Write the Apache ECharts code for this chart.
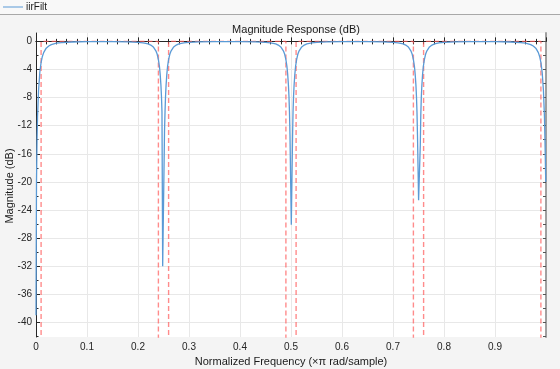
<!DOCTYPE html>
<html>
<head>
<meta charset="utf-8">
<script src="https://cdn.jsdelivr.net/npm/echarts@6/dist/echarts.min.js"></script>
<style>
html,body{margin:0;padding:0;background:#f4f4f4;}
#c{width:560px;height:369px;}
</style>
</head>
<body>
<div id="c"></div>
<script>
// ---- data ----
const freq = [
  0, 0.001, 0.002, 0.003, 0.005, 0.0075, 0.01, 0.0125, 0.015, 0.02, 0.025, 0.03, 0.04, 0.05, 0.07, 0.1, 0.125,
  0.15, 0.18, 0.20, 0.21, 0.22, 0.225, 0.23, 0.235, 0.2375, 0.24, 0.242, 0.2435, 0.245, 0.246, 0.247, 0.2484,
  0.252, 0.253, 0.254, 0.255, 0.2565, 0.258, 0.26, 0.2625, 0.265, 0.27, 0.275, 0.28, 0.29, 0.30, 0.32, 0.35, 0.375,
  0.40, 0.43, 0.45, 0.46, 0.47, 0.475, 0.48, 0.485, 0.4875, 0.49, 0.492, 0.4935, 0.495, 0.496, 0.497, 0.498, 0.5006,
  0.503, 0.504, 0.505, 0.506, 0.5075, 0.509, 0.511, 0.5135, 0.516, 0.521, 0.526, 0.531, 0.541, 0.551, 0.57, 0.60, 0.625,
  0.65, 0.68, 0.70, 0.71, 0.72, 0.725, 0.73, 0.735, 0.7375, 0.74, 0.742, 0.7435, 0.745, 0.746, 0.747, 0.748, 0.7502,
  0.7535, 0.7545, 0.7555, 0.7565, 0.758, 0.7595, 0.7615, 0.764, 0.7665, 0.7715, 0.7765, 0.7815, 0.79, 0.80, 0.82, 0.85, 0.875,
  0.90, 0.93, 0.95, 0.96, 0.97, 0.975, 0.98, 0.985, 0.9875, 0.99, 0.9925, 0.995, 0.997, 0.998, 0.9995
];
const magDb = [
  -39, -20, -14.1, -10.8, -7.0, -4.4, -3.0, -2.15, -1.6, -0.97, -0.66, -0.46, -0.26, -0.17, -0.09, -0.04, -0.03,
  -0.035, -0.07, -0.14, -0.21, -0.37, -0.53, -0.8, -1.34, -1.8, -2.6, -3.55, -4.7, -6.3, -7.8, -10.0, -32,
  -12.8, -10.0, -7.8, -6.3, -4.7, -3.55, -2.6, -1.8, -1.34, -0.8, -0.53, -0.37, -0.21, -0.14, -0.07, -0.035, -0.03,
  -0.035, -0.07, -0.14, -0.21, -0.37, -0.53, -0.8, -1.34, -1.8, -2.6, -3.55, -4.7, -6.3, -7.8, -10.0, -13.3, -26.1,
  -13.8, -10.0, -7.8, -6.3, -4.7, -3.55, -2.6, -1.8, -1.34, -0.8, -0.53, -0.37, -0.21, -0.14, -0.07, -0.035, -0.03,
  -0.035, -0.07, -0.14, -0.21, -0.37, -0.53, -0.8, -1.34, -1.8, -2.6, -3.55, -4.7, -6.3, -7.8, -10.0, -13.3, -22.6,
  -14.8, -10.5, -8.0, -6.4, -4.7, -3.55, -2.6, -1.8, -1.34, -0.8, -0.53, -0.37, -0.21, -0.14, -0.07, -0.035, -0.03,
  -0.04, -0.09, -0.17, -0.26, -0.46, -0.66, -0.97, -1.6, -2.15, -3.0, -4.4, -7.0, -10.8, -14.1, -20
];
// passband mask edges (normalized frequency) and passband level (dB)
const passbands = [[0.01, 0.24], [0.26, 0.49], [0.51, 0.74], [0.76, 0.99]];
const maskTop = 0;
const maskFloor = -60;
// axis ranges & ticks
const xMin = 0, xMax = 1, xStep = 0.1;
const xTopTicks = [0.02, 0.04, 0.06, 0.08, 0.1, 0.12, 0.14, 0.16, 0.18, 0.2, 0.22, 0.24, 0.26, 0.28, 0.3,
  0.32, 0.34, 0.36, 0.38, 0.4, 0.42, 0.44, 0.46, 0.48, 0.5, 0.52, 0.54, 0.56, 0.58, 0.6, 0.62, 0.64, 0.66, 0.68, 0.7,
  0.72, 0.74, 0.76, 0.78, 0.8, 0.82, 0.84, 0.86, 0.88, 0.9, 0.92, 0.94, 0.96, 0.98];
const yMin = -42.08, yMax = 1.19;
const yMajor = [-40, -36, -32, -28, -24, -20, -16, -12, -8, -4, 0];
const yMinor = [-42, -38, -34, -30, -26, -22, -18, -14, -10, -6, -2];
const seriesName = 'iirFilt';

const FONT = 'Liberation Sans, Arial, Helvetica, sans-serif';
const AX = '#262626';
const BLUE = '#5a9ad6';

const curve = freq.map((f, i) => [f, magDb[i]]);
const maskData = [];
passbands.forEach((b, i) => {
  if (i > 0) maskData.push(null);
  maskData.push([b[0], maskFloor], [b[0], maskTop], [b[1], maskTop], [b[1], maskFloor]);
});

const chart = echarts.init(document.getElementById('c'), null, {renderer: 'canvas'});
chart.setOption({
  backgroundColor: '#f4f4f4',
  animation: false,
  textStyle: {fontFamily: FONT},
  title: {
    text: 'Magnitude Response (dB)',
    left: 291, top: 19, textAlign: 'center',
    textStyle: {fontSize: 11, fontWeight: 'normal', color: '#1a1a1a', fontFamily: FONT}
  },
  legend: {
    data: [{name: seriesName, icon: 'rect', itemStyle: {color: BLUE}}],
    left: 3, top: 2,
    itemWidth: 20, itemHeight: 1, itemGap: 4,
    padding: 0,
    textStyle: {fontSize: 10, color: '#1a1a1a', fontFamily: FONT, padding: [0, 0, 0, -2]}
  },
  graphic: [
    {type: 'rect', left: 0, top: 0, shape: {width: 560, height: 14}, style: {fill: '#f8f8f8'}, z: -10, silent: true},
    {type: 'line', shape: {x1: 0, y1: 14.5, x2: 560, y2: 14.5}, style: {stroke: '#a8a8a8', lineWidth: 1}, z: -9, silent: true},
    {type: 'text', x: 10, y: 186, rotation: Math.PI / 2, silent: true,
      style: {text: 'Magnitude (dB)', fill: '#1a1a1a', font: '11px ' + FONT, align: 'center', verticalAlign: 'middle'}}
  ],
  grid: {left: 36, right: 14, top: 33, bottom: 32, show: true, backgroundColor: '#ffffff', borderWidth: 0,
    containLabel: false, outerBoundsMode: 'none'},
  xAxis: [
    {
      type: 'value', min: xMin, max: xMax, interval: xStep, position: 'bottom',
      name: 'Normalized Frequency (\u00d7\u03c0 rad/sample)', nameLocation: 'middle', nameGap: 15,
      nameTextStyle: {fontSize: 11, color: '#1a1a1a', fontFamily: FONT},
      axisLine: {show: true, lineStyle: {color: AX, width: 1}},
      axisTick: {show: true, inside: true, length: 4, lineStyle: {color: AX}},
      minorTick: {show: true, splitNumber: 5, length: 2.5, lineStyle: {color: AX}},
      splitLine: {show: true, lineStyle: {color: '#e8e8e8', width: 1}},
      axisLabel: {fontSize: 10, color: AX, margin: 5, showMaxLabel: false,
        formatter: v => (v === 0 ? '0' : String(+v.toFixed(1)))}
    },
    {
      type: 'value', min: xMin, max: xMax, interval: xStep, position: 'top',
      axisLine: {show: true, lineStyle: {color: AX, width: 1}},
      axisTick: {show: true, inside: true, length: 3, lineStyle: {color: AX}, customValues: xTopTicks},
      minorTick: {show: false},
      splitLine: {show: false}, axisLabel: {show: false}
    }
  ],
  yAxis: [
    {
      type: 'value', min: yMin, max: yMax, position: 'left',
      axisLine: {show: true, lineStyle: {color: AX, width: 1}},
      axisTick: {show: true, inside: true, length: 4, lineStyle: {color: AX}, customValues: yMajor},
      splitLine: {show: true, lineStyle: {color: '#e8e8e8', width: 1}},
      axisLabel: {fontSize: 10, color: AX, margin: 4, customValues: yMajor}
    },
    {
      type: 'value', min: yMin, max: yMax, position: 'left',
      axisLine: {show: false},
      axisTick: {show: true, inside: true, length: 2.5, lineStyle: {color: AX}, customValues: yMinor},
      splitLine: {show: false}, axisLabel: {show: false}
    },
    {
      type: 'value', min: yMin, max: yMax, position: 'right',
      axisLine: {show: true, lineStyle: {color: '#a0a0a0', width: 2}},
      axisTick: {show: true, inside: true, length: 3, lineStyle: {color: '#555'}, customValues: yMajor.concat(yMinor)},
      splitLine: {show: false}, axisLabel: {show: false}
    }
  ],
  series: [
    {
      name: seriesName, type: 'line', data: curve, xAxisIndex: 0, yAxisIndex: 0,
      symbol: 'none', smooth: false, clip: true,
      lineStyle: {color: BLUE, width: 1.3},
      itemStyle: {color: BLUE}, z: 3
    },
    {
      name: 'mask', type: 'line', data: maskData, xAxisIndex: 0, yAxisIndex: 0,
      symbol: 'none', connectNulls: false, clip: true,
      lineStyle: {color: 'rgba(255,90,90,0.7)', width: 1.4, type: [5, 3]},
      itemStyle: {color: 'rgba(255,90,90,0.7)'}, z: 2
    }
  ]
});
</script>
</body>
</html>
